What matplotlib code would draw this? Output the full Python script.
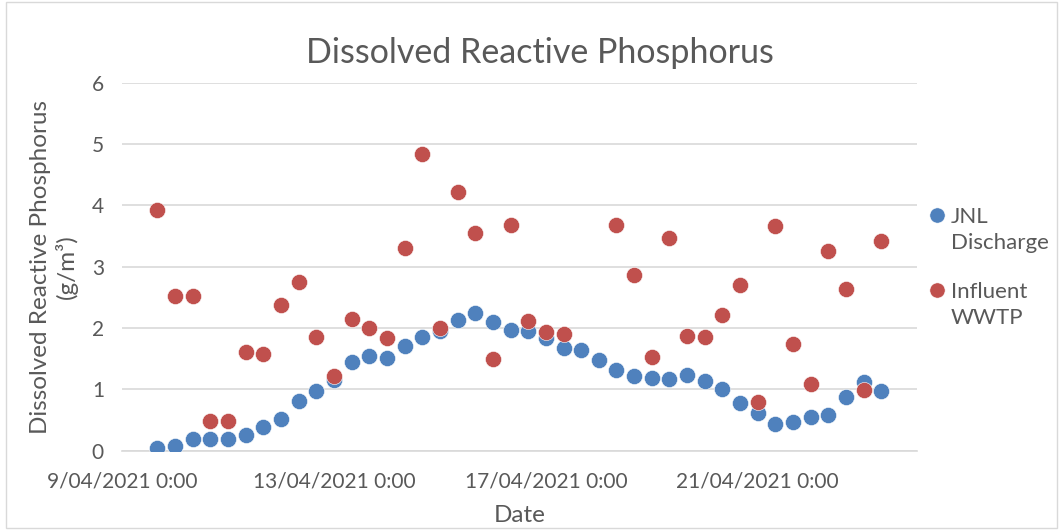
import numpy as np
import pandas as pd
import matplotlib
matplotlib.use("Agg")
import matplotlib.pyplot as plt
import matplotlib.dates as mdates
from matplotlib.patches import Rectangle
from matplotlib.lines import Line2D

# sample times: every 8 hours starting 9/04/2021 16:00
times = pd.date_range("2021-04-09 16:00", periods=42, freq="8h")

jnl_discharge = [0.05, 0.08, 0.19, 0.19, 0.19, 0.25, 0.39, 0.51, 0.81, 0.98,
                 1.15, 1.44, 1.55, 1.51, 1.71, 1.85, 1.95, 2.13, 2.24, 2.10,
                 1.97, 1.95, 1.83, 1.68, 1.64, 1.48, 1.31, 1.21, 1.18, 1.17,
                 1.23, 1.13, 1.00, 0.78, 0.62, 0.44, 0.47, 0.55, 0.58, 0.88,
                 1.12, 0.97]

influent_wwtp = [3.92, 2.53, 2.53, 0.49, 0.49, 1.61, 1.57, 2.38, 2.75, 1.85,
                 1.22, 2.14, 2.00, 1.83, 3.30, 4.84, 2.00, 4.21, 3.55, 1.50,
                 3.68, 2.12, 1.93, 1.91, np.nan, np.nan, 3.68, 2.87, 1.53, 3.46,
                 1.87, 1.85, 2.22, 2.70, 0.79, 3.67, 1.74, 1.09, 3.26, 2.64,
                 0.99, 3.42]

series_names = ['JNL\nDischarge', 'Influent\nWWTP']
colors = ['#4F81BD', '#C0504D']
text_grey = '#595959'

plt.rcParams['font.family'] = ['Lato', 'DejaVu Sans']

fig = plt.figure(figsize=(10.61, 5.30), dpi=100)
ax = fig.add_axes([0.115, 0.1496, 0.749, 0.6944])

ax.scatter(times, jnl_discharge, s=135, color=colors[0], edgecolors='white',
           linewidths=0.4, zorder=3)
ax.scatter(times, influent_wwtp, s=135, color=colors[1], edgecolors='white',
           linewidths=0.4, zorder=4)

ax.set_ylim(0, 6)
ax.set_yticks(range(0, 7))
ax.set_xlim(pd.Timestamp("2021-04-09"), pd.Timestamp("2021-04-24"))
ax.set_xticks([pd.Timestamp("2021-04-09") + pd.Timedelta(days=4 * i) for i in range(4)])


def fmt_date(x, pos):
    d = mdates.num2date(x)
    return f"{d.day}/{d.month:02d}/{d.year} {d.hour}:{d.minute:02d}"


ax.xaxis.set_major_formatter(plt.FuncFormatter(fmt_date))

ax.grid(axis='y', color='#D9D9D9', linewidth=1.2)
ax.set_axisbelow(True)
for s in ['top', 'right', 'left']:
    ax.spines[s].set_visible(False)
ax.spines['bottom'].set_color('#D9D9D9')
ax.spines['bottom'].set_linewidth(1.2)
ax.tick_params(length=0, labelsize=15, labelcolor=text_grey)
ax.tick_params(axis='x', pad=15)
ax.tick_params(axis='y', pad=13)

# Excel centres the title on the chart area, not the plot area
ax.set_title("Dissolved Reactive Phosphorus", fontsize=24.5, color=text_grey,
             pad=14, x=0.526)
ax.set_xlabel("Date", fontsize=17.5, color=text_grey, labelpad=10)
ax.set_ylabel("Dissolved Reactive Phosphorus\n(g/m³)", fontsize=17.5, color=text_grey,
              labelpad=10, linespacing=1.2)

# legend drawn like Excel: marker next to the first line of each label
W, H = 1061, 530
for name, c, ym in zip(series_names, colors, [215, 290]):
    fig.add_artist(Line2D([937 / W], [1 - ym / H], marker='o', markersize=11,
                          color=c, markeredgecolor='white', markeredgewidth=0.4,
                          transform=fig.transFigure))
    fig.text(951 / W, 1 - (ym + 15) / H, name, fontsize=16, color=text_grey,
             va='center', ha='left', linespacing=1.32)

fig.patches.append(Rectangle((0.006, 0.004), 0.99, 0.992, transform=fig.transFigure,
                             fill=False, edgecolor='#D9D9D9', linewidth=1))

fig.savefig("out.png", dpi=100)
